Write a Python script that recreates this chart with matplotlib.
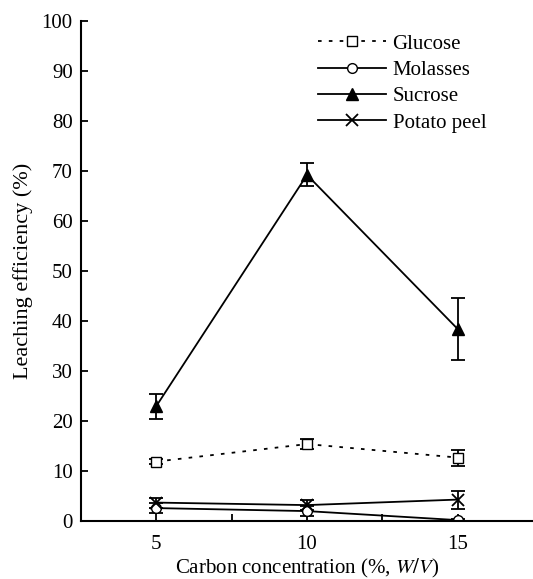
import matplotlib
matplotlib.use('Agg')
from matplotlib import pyplot as plt
from matplotlib.lines import Line2D

plt.rcParams['font.family'] = ['Liberation Serif', 'DejaVu Serif']
plt.rcParams['mathtext.fontset'] = 'stix'

# carbon source concentration (% W/V)
conc = [5, 10, 15]

glucose = [11.9, 15.4, 12.7]
glucose_err = [0.5, 1.0, 1.6]
molasses = [2.6, 2.0, 0.2]
molasses_err = [1.0, 1.0, 0.3]
sucrose = [23.0, 69.2, 38.4]
sucrose_err = [2.5, 2.3, 6.1]
potato = [3.7, 3.2, 4.3]
potato_err = [1.0, 1.0, 1.8]

labels = ['Glucose', 'Molasses', 'Sucrose', 'Potato peel']

fig = plt.figure(figsize=(5.33, 5.79), dpi=100)
ax = fig.add_axes([0.152, 0.100, 0.848, 0.864])

common = dict(color='black', lw=1.3, capsize=5, elinewidth=1.3, capthick=1.3)
styles = [
    dict(ls=(0, (2, 4)), marker='s', ms=7, mfc='white', mec='black'),
    dict(ls='-', marker='o', ms=7, mfc='white', mec='black'),
    dict(ls='-', marker='^', ms=8, mfc='black', mec='black'),
    dict(ls='-', marker='x', ms=8, mew=1.3),
]
series = [(glucose, glucose_err), (molasses, molasses_err),
          (sucrose, sucrose_err), (potato, potato_err)]

for (y, err), st, name in zip(series, styles, labels):
    ax.errorbar(conc, y, yerr=err, **st, **common)

ax.set_xlim(2.5, 17.5)
ax.set_ylim(0, 100)
ax.set_xticks(conc)
ax.set_xticks([7.5, 12.5], minor=True)
ax.set_yticks(range(0, 101, 10))
ax.tick_params(direction='in', labelsize=15, width=1.3, length=5)
ax.tick_params(which='minor', direction='in', width=1.3, length=5)
ax.tick_params(axis='x', pad=10)
ax.tick_params(axis='y', pad=6)

for s in ['top', 'right']:
    ax.spines[s].set_visible(False)
for s in ['left', 'bottom']:
    ax.spines[s].set_linewidth(1.5)

ax.set_xlabel('Carbon concentration (%, $\\mathit{W/V}$)', fontsize=15, labelpad=2)
ax.set_ylabel('Leaching efficiency (%)', fontsize=16, labelpad=6)

# legend entries without the error bars
handles = [Line2D([], [], color='black', lw=1.3, **st) for st in styles]
ax.legend(handles, labels, loc='upper left', bbox_to_anchor=(0.505, 0.99),
          frameon=False, fontsize=15, handlelength=3.3, labelspacing=0.32,
          handletextpad=0.3, borderaxespad=0)

fig.savefig('out.png', dpi=100)
